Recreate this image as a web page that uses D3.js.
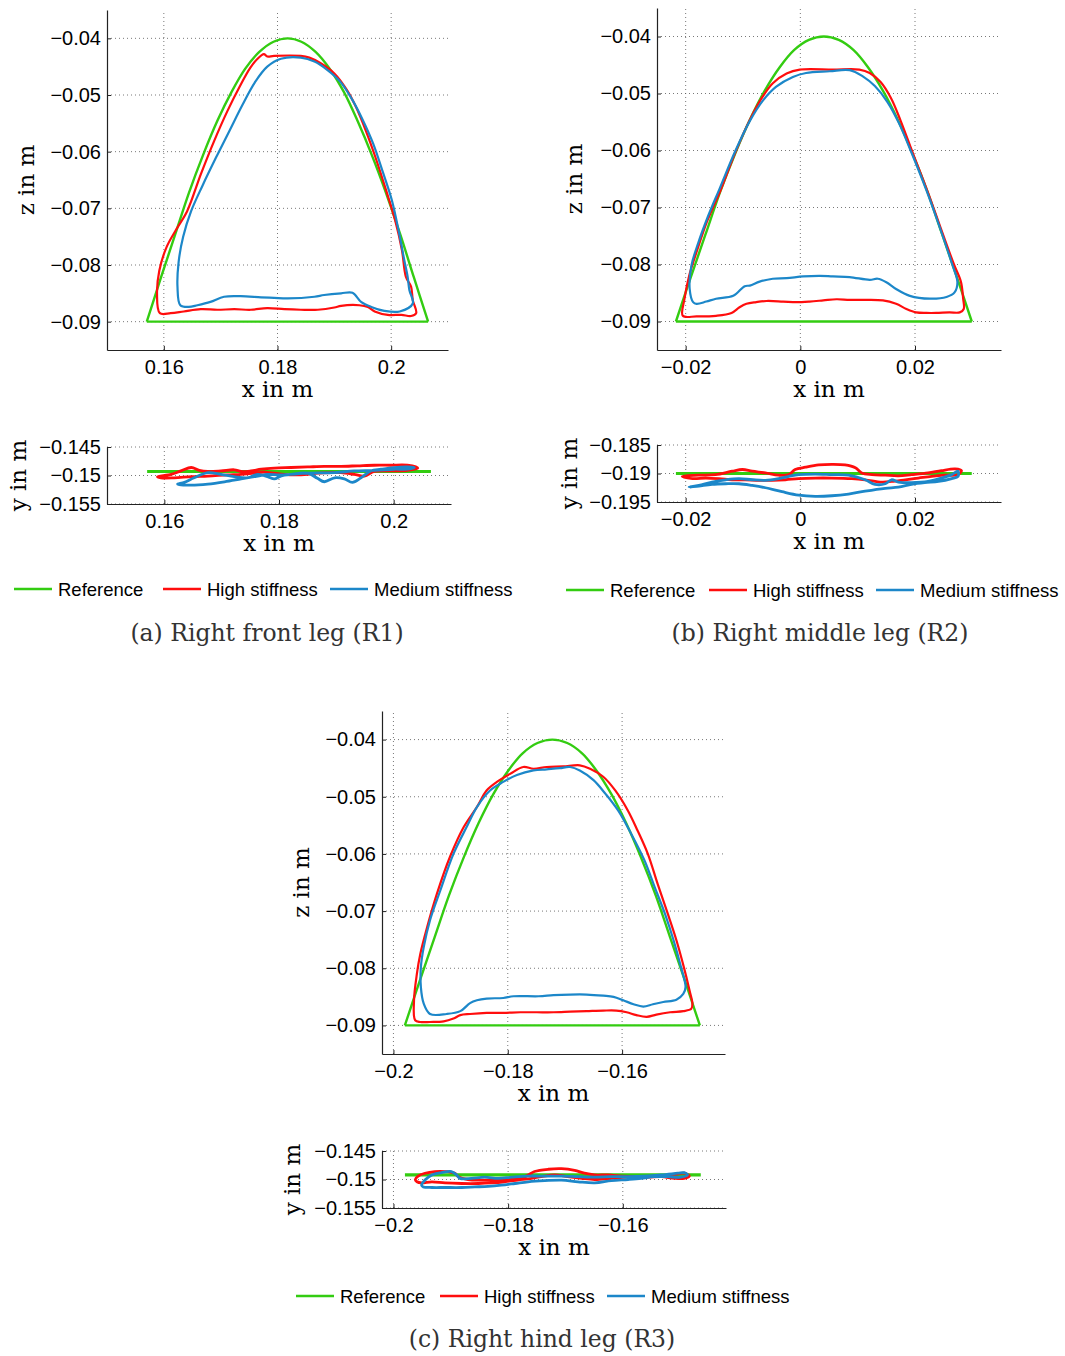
<!DOCTYPE html>
<html lang="en">
<head>
<meta charset="UTF-8">
<title>leg-trajectories</title>
<style>
  body { margin: 0; background: #fff; }
  svg { display: block; }
</style>
</head>
<body>
<div id="container"></div>
<script src="https://cdn.jsdelivr.net/npm/d3@7"></script>
<script>
// ---- data ---------------------------------------------------------------
var seriesNames = ["Reference", "High stiffness", "Medium stiffness"];

var zTicks = [-0.04, -0.05, -0.06, -0.07, -0.08, -0.09];
var xTicksA = [0.16, 0.18, 0.2];
var xTicksB = [-0.02, 0, 0.02];
var xTicksC = [-0.2, -0.18, -0.16];
var yTicksA = [-0.145, -0.15, -0.155];
var yTicksB = [-0.185, -0.19, -0.195];
var yTicksC = [-0.145, -0.15, -0.155];

// reference step (same height profile for every leg)
var refZ = [-0.09, -0.0822, -0.0746, -0.0673, -0.0606, -0.0546, -0.0495, -0.0454, -0.0424, -0.0406, -0.04,
            -0.0406, -0.0424, -0.0454, -0.0495, -0.0546, -0.0606, -0.0673, -0.0746, -0.0822, -0.09];
var refXa = [0.157, 0.1595, 0.162, 0.1644, 0.1669, 0.1694, 0.1719, 0.1743, 0.1768, 0.1793, 0.1818,
             0.1842, 0.1867, 0.1892, 0.1917, 0.1941, 0.1966, 0.1991, 0.2016, 0.204, 0.2065];
var refXb = [-0.0217, -0.0191, -0.0165, -0.014, -0.0114, -0.0088, -0.0062, -0.0036, -0.0011, 0.0015, 0.0041,
             0.0067, 0.0093, 0.0118, 0.0144, 0.017, 0.0196, 0.0222, 0.0247, 0.0273, 0.0299];
var refXc = [-0.198, -0.1954, -0.1928, -0.1903, -0.1877, -0.1851, -0.1825, -0.1799, -0.1774, -0.1748, -0.1722,
             -0.1696, -0.167, -0.1645, -0.1619, -0.1593, -0.1567, -0.1541, -0.1516, -0.149, -0.1464];
var refSideA = [[0.157, -0.1493], [0.2065, -0.1493]];
var refSideB = [[-0.0217, -0.19], [0.0299, -0.19]];
var refSideC = [[-0.198, -0.1492], [-0.1464, -0.1492]];

// R1 (x, z)
var highA = [[0.1593,-0.0885],[0.1588,-0.085],[0.1592,-0.081],[0.1605,-0.0768],[0.1622,-0.0737],[0.1641,-0.0705],
  [0.1665,-0.064],[0.1689,-0.058],[0.1712,-0.0528],[0.1734,-0.0484],[0.1752,-0.0452],[0.1764,-0.0437],
  [0.1776,-0.0428],[0.1782,-0.0432],
  [0.1794,-0.0431],[0.1841,-0.0431],[0.1856,-0.0434],[0.1876,-0.0444],[0.19,-0.0462],[0.1922,-0.0491],
  [0.1938,-0.0521],[0.1955,-0.0562],[0.1972,-0.0609],[0.1991,-0.0668],[0.2007,-0.0721],[0.2019,-0.0774],
  [0.2026,-0.0821],[0.2035,-0.0838],[0.2038,-0.0862],[0.2044,-0.0885],[0.2035,-0.089],[0.2018,-0.0888],
  [0.1994,-0.0888],[0.1971,-0.0882],[0.1959,-0.0874],[0.1944,-0.0871],[0.1912,-0.0872],[0.19,-0.0875],
  [0.1871,-0.0879],[0.1841,-0.0879],[0.1812,-0.0878],[0.1782,-0.0876],[0.1753,-0.0879],[0.1724,-0.0878],
  [0.1694,-0.0879],[0.1665,-0.0878],[0.1635,-0.0882],[0.1612,-0.0885]];
var medA = [[0.1629,-0.0871],[0.1624,-0.0838],[0.1626,-0.0795],[0.1634,-0.075],[0.1648,-0.0705],[0.1668,-0.066],
  [0.1692,-0.061],[0.1716,-0.0562],[0.1738,-0.0518],[0.176,-0.0478],[0.1782,-0.045],[0.1806,-0.0436],
  [0.1841,-0.0434],[0.1865,-0.0441],[0.1888,-0.0456],[0.191,-0.0476],[0.1932,-0.0509],[0.195,-0.0544],
  [0.1968,-0.0585],[0.1986,-0.0638],[0.2001,-0.0685],[0.2014,-0.0744],[0.2023,-0.0791],[0.2029,-0.0821],
  [0.2032,-0.0844],[0.2038,-0.0868],[0.2015,-0.0882],[0.1988,-0.0881],[0.1965,-0.0874],[0.1947,-0.0865],
  [0.1932,-0.0849],[0.1912,-0.085],[0.1882,-0.0853],[0.1865,-0.0856],[0.1818,-0.0859],[0.1794,-0.0858],
  [0.1771,-0.0857],[0.1735,-0.0855],[0.1706,-0.0856],[0.1682,-0.0865],[0.1659,-0.0871],[0.1644,-0.0874]];
// R1 (x, y)
var highSideA = [[0.1588,-0.1502],[0.1612,-0.1498],[0.1629,-0.1492],[0.1647,-0.1486],[0.1661,-0.1491],[0.1676,-0.1493],
  [0.1699,-0.1492],[0.1722,-0.149],[0.1734,-0.1493],[0.1751,-0.1492],[0.1769,-0.1489],[0.1792,-0.1487],
  [0.1821,-0.1486],[0.185,-0.1485],[0.1879,-0.1484],[0.1908,-0.1484],[0.1937,-0.1483],[0.1966,-0.1482],
  [0.1995,-0.1482],[0.2024,-0.1482],[0.2042,-0.1487],[0.2024,-0.1491],[0.1995,-0.1492],[0.1966,-0.1493],
  [0.1949,-0.1501],[0.1931,-0.1498],[0.1908,-0.1495],[0.1891,-0.1495],[0.1867,-0.1496],[0.185,-0.1498],
  [0.1827,-0.1499],[0.1809,-0.1498],[0.1792,-0.1496],[0.1774,-0.1494],[0.1757,-0.1496],[0.1734,-0.1498],
  [0.171,-0.1499],[0.1676,-0.1501],[0.1647,-0.1502],[0.1617,-0.1504],[0.1594,-0.1504]];
var medSideA = [[0.1623,-0.1515],[0.1635,-0.1512],[0.1652,-0.1504],[0.1676,-0.1495],[0.1699,-0.1498],[0.1722,-0.1502],
  [0.1745,-0.1504],[0.1763,-0.1498],[0.178,-0.1502],[0.1792,-0.1506],[0.1803,-0.1501],[0.1821,-0.1498],
  [0.185,-0.1496],[0.1867,-0.1505],[0.1879,-0.1511],[0.1897,-0.1504],[0.1914,-0.1506],[0.1928,-0.1512],
  [0.1943,-0.1504],[0.196,-0.1492],[0.1978,-0.1489],[0.2001,-0.1486],[0.2024,-0.1485],[0.2036,-0.1486],
  [0.2024,-0.1489],[0.2001,-0.1489],[0.1966,-0.1491],[0.1931,-0.1492],[0.1897,-0.1495],[0.185,-0.1496],
  [0.1803,-0.1499],[0.178,-0.1498],[0.1763,-0.1501],[0.1734,-0.1506],[0.1705,-0.1511],[0.1676,-0.1515],
  [0.1647,-0.1517],[0.1626,-0.1516]];

// R2 (x, z)
var highB = [[-0.0205,-0.089],[-0.0202,-0.086],[-0.0194,-0.082],[-0.018,-0.0775],[-0.0163,-0.0725],[-0.014,-0.0672],
  [-0.0114,-0.0605],[-0.0088,-0.0546],[-0.0066,-0.0506],[-0.0048,-0.0482],[-0.0024,-0.0465],[-0.0001,-0.0458],
  [0.0057,-0.0458],[0.0103,-0.0458],[0.0121,-0.0464],[0.014,-0.048],[0.0158,-0.0508],[0.0175,-0.0548],
  [0.0196,-0.0604],[0.0222,-0.0672],[0.0248,-0.0745],[0.0268,-0.08],[0.028,-0.083],[0.0284,-0.086],
  [0.0285,-0.0878],[0.0278,-0.0884],[0.026,-0.0884],[0.0237,-0.0885],
  [0.022,-0.0885],[0.0202,-0.0884],[0.0185,-0.0878],[0.0167,-0.0869],[0.0144,-0.0863],[0.0115,-0.0862],
  [0.0086,-0.0862],[0.0063,-0.0861],[0.004,-0.0863],[0.0016,-0.0865],[-0.0007,-0.0866],[-0.003,-0.0865],
  [-0.0059,-0.0864],[-0.0077,-0.0866],[-0.0094,-0.0869],[-0.0106,-0.0875],[-0.012,-0.0885],[-0.0147,-0.089],
  [-0.0181,-0.0891]];
var medB = [[-0.0187,-0.0866],[-0.0193,-0.0843],[-0.019,-0.0802],[-0.0178,-0.0762],[-0.0162,-0.0718],[-0.014,-0.0665],
  [-0.0113,-0.06],[-0.0088,-0.0548],[-0.0065,-0.0512],[-0.0042,-0.0488],[-0.0013,-0.0471],[0.001,-0.0464],
  [0.0051,-0.0461],[0.0086,-0.0459],[0.0109,-0.047],[0.013,-0.0487],[0.0152,-0.0515],[0.0172,-0.0552],
  [0.0194,-0.0604],[0.022,-0.067],[0.0246,-0.0743],[0.0265,-0.08],
  [0.0274,-0.0831],[0.0269,-0.0849],[0.0255,-0.0857],[0.0226,-0.086],[0.0191,-0.0855],[0.0167,-0.0843],
  [0.015,-0.0831],[0.0135,-0.0825],[0.0121,-0.0827],[0.0086,-0.0822],[0.0057,-0.0821],[0.0034,-0.082],
  [0.0005,-0.0821],[-0.0024,-0.0824],[-0.0048,-0.0825],[-0.0071,-0.083],[-0.0088,-0.0837],[-0.0097,-0.0838],
  [-0.0117,-0.0855],[-0.0147,-0.086],[-0.0164,-0.0865],[-0.0181,-0.0869]];
// R2 (x, y)
var highSideB = [[-0.0206,-0.1905],[-0.0177,-0.1903],[-0.0148,-0.1902],[-0.0119,-0.1896],[-0.0101,-0.1893],[-0.0084,-0.1896],
  [-0.0061,-0.1899],[-0.0038,-0.1903],[-0.002,-0.1902],[-0.0009,-0.1893],[0.0009,-0.1889],[0.0032,-0.1885],
  [0.0055,-0.1884],[0.0078,-0.1885],[0.0096,-0.189],[0.0107,-0.1899],[0.0125,-0.1902],[0.0148,-0.1903],
  [0.0171,-0.1904],[0.0194,-0.1902],[0.0223,-0.1899],[0.0246,-0.1895],[0.027,-0.1892],[0.0281,-0.1895],
  [0.0275,-0.1902],[0.0252,-0.1903],[0.0229,-0.1905],[0.0206,-0.1908],[0.0183,-0.1911],[0.0159,-0.1914],
  [0.0142,-0.1915],[0.0113,-0.1911],[0.009,-0.1909],[0.0055,-0.1908],[0.0026,-0.1908],[-0.0003,-0.1909],
  [-0.0026,-0.1911],[-0.0049,-0.1912],[-0.0072,-0.1912],[-0.0096,-0.1911],[-0.0119,-0.1911],[-0.0142,-0.1909],
  [-0.0165,-0.1908],[-0.0188,-0.1909]];
var medSideB = [[-0.0194,-0.1924],[-0.0177,-0.1921],[-0.0154,-0.1915],[-0.013,-0.1911],[-0.0107,-0.1909],[-0.0084,-0.1911],
  [-0.0061,-0.1912],[-0.0038,-0.1909],[-0.002,-0.1905],[-0.0003,-0.1902],[0.0026,-0.1901],[0.0055,-0.1902],
  [0.0084,-0.1903],[0.0113,-0.1911],[0.013,-0.1919],[0.0148,-0.1918],[0.0159,-0.1911],[0.0171,-0.1915],
  [0.0194,-0.1916],[0.0223,-0.1914],[0.0246,-0.1908],[0.0264,-0.1902],[0.0275,-0.1896],[0.0275,-0.1905],
  [0.0264,-0.1909],[0.0241,-0.1914],[0.0217,-0.1916],[0.0194,-0.1919],[0.0171,-0.1924],[0.0148,-0.1926],
  [0.0113,-0.1931],[0.0084,-0.1936],[0.0055,-0.1939],[0.0026,-0.194],[-0.0003,-0.1938],[-0.0032,-0.1932],
  [-0.0061,-0.1925],[-0.0084,-0.1921],[-0.0107,-0.1918],[-0.013,-0.1918],[-0.0154,-0.1919],[-0.0177,-0.1922]];

// R3 (x, z)
var highC = [[-0.1962,-0.0891],[-0.1964,-0.0856],[-0.1959,-0.081],[-0.1953,-0.0775],[-0.1941,-0.0728],[-0.1924,-0.067],
  [-0.1901,-0.0605],[-0.1877,-0.0553],[-0.1854,-0.0518],[-0.1837,-0.0489],[-0.1819,-0.0474],[-0.1796,-0.046],
  [-0.1773,-0.0448],[-0.1755,-0.0451],[-0.1732,-0.0448],[-0.1703,-0.0447],[-0.1674,-0.0445],[-0.1656,-0.0451],
  [-0.1633,-0.0465],[-0.1612,-0.0489],[-0.159,-0.0524],[-0.1573,-0.0559],[-0.1555,-0.06],[-0.1538,-0.0652],
  [-0.152,-0.0705],[-0.1505,-0.0751],[-0.1492,-0.0798],[-0.1482,-0.0839],[-0.1477,-0.0862],[-0.1479,-0.0871],
  [-0.1493,-0.0875],[-0.1516,-0.0877],[-0.154,-0.0881],[-0.1557,-0.0885],[-0.1575,-0.0882],[-0.1592,-0.0877],
  [-0.161,-0.0874],[-0.1633,-0.0874],[-0.1662,-0.0875],[-0.1691,-0.0876],[-0.172,-0.0877],[-0.1749,-0.0877],
  [-0.1778,-0.0877],[-0.1808,-0.0878],[-0.1837,-0.0878],[-0.1866,-0.088],[-0.1883,-0.0882],[-0.1895,-0.0888],
  [-0.1912,-0.0893],[-0.1936,-0.0894],[-0.1953,-0.0894]];
var medC = [[-0.1936,-0.088],[-0.1947,-0.0862],[-0.1952,-0.0833],[-0.1952,-0.0798],[-0.1947,-0.0763],[-0.1936,-0.0716],
  [-0.1918,-0.0664],[-0.1895,-0.06],[-0.1872,-0.0553],[-0.1854,-0.0518],[-0.1831,-0.0489],[-0.1808,-0.0474],
  [-0.1784,-0.0462],[-0.1755,-0.0454],[-0.1732,-0.0452],[-0.1709,-0.045],[-0.1691,-0.0448],[-0.1674,-0.0454],
  [-0.165,-0.0471],[-0.1629,-0.0495],[-0.1607,-0.0524],[-0.1584,-0.0565],[-0.1561,-0.0611],[-0.1543,-0.0658],
  [-0.1525,-0.0705],[-0.151,-0.0751],[-0.1497,-0.0798],[-0.1489,-0.0833],[-0.1493,-0.0845],[-0.1505,-0.0855],
  [-0.1528,-0.0859],[-0.1546,-0.0863],[-0.1563,-0.0867],[-0.158,-0.0863],[-0.1598,-0.0856],[-0.1615,-0.085],
  [-0.1633,-0.0848],[-0.1662,-0.0846],[-0.1691,-0.0846],[-0.172,-0.0847],[-0.1746,-0.0849],[-0.179,-0.0849],
  [-0.1808,-0.0852],[-0.1837,-0.0853],[-0.1854,-0.0856],[-0.1866,-0.0861],[-0.1883,-0.0875],[-0.1907,-0.088]];
// R3 (x, y)
var highSideC = [[-0.1962,-0.15],[-0.1957,-0.1494],[-0.1945,-0.1489],[-0.1928,-0.1486],[-0.191,-0.1486],[-0.1893,-0.1489],
  [-0.1887,-0.1495],[-0.187,-0.15],[-0.1846,-0.1501],[-0.1823,-0.1501],[-0.18,-0.15],[-0.1777,-0.1498],
  [-0.1765,-0.1492],[-0.1754,-0.1486],[-0.173,-0.1482],[-0.1707,-0.1481],[-0.1684,-0.1484],[-0.1667,-0.1489],
  [-0.1649,-0.1492],[-0.1626,-0.1492],[-0.1603,-0.1494],[-0.158,-0.1495],[-0.1557,-0.1495],[-0.1533,-0.1494],
  [-0.151,-0.1491],[-0.1493,-0.1489],[-0.1484,-0.1494],[-0.1493,-0.1498],[-0.151,-0.1498],[-0.1533,-0.1495],
  [-0.1557,-0.1496],[-0.1591,-0.1496],[-0.162,-0.1498],[-0.1649,-0.15],[-0.1672,-0.1498],[-0.1696,-0.1495],
  [-0.1719,-0.1492],[-0.1742,-0.1495],[-0.1759,-0.1498],[-0.1783,-0.1501],[-0.1806,-0.1504],[-0.1829,-0.1506],
  [-0.1852,-0.1507],[-0.1881,-0.1507],[-0.191,-0.1506],[-0.1933,-0.1504],[-0.1951,-0.1506],[-0.1959,-0.1504]];
var medSideC = [[-0.1951,-0.151],[-0.1945,-0.1501],[-0.1933,-0.1492],[-0.1916,-0.1488],[-0.1899,-0.1486],[-0.189,-0.1492],
  [-0.1884,-0.1498],[-0.1864,-0.1498],[-0.1841,-0.1496],[-0.1817,-0.1498],[-0.1794,-0.1496],[-0.1765,-0.1494],
  [-0.1736,-0.1494],[-0.1707,-0.1494],[-0.1678,-0.1495],[-0.1649,-0.1496],[-0.162,-0.1495],[-0.1591,-0.1495],
  [-0.1562,-0.1494],[-0.1533,-0.1492],[-0.1504,-0.1489],[-0.1493,-0.1488],[-0.1487,-0.1492],[-0.1499,-0.1496],
  [-0.1522,-0.1495],[-0.1545,-0.1495],[-0.1568,-0.1498],[-0.1591,-0.15],[-0.162,-0.1502],[-0.1649,-0.1506],
  [-0.1678,-0.1504],[-0.1707,-0.1501],[-0.1736,-0.1502],[-0.1765,-0.1504],[-0.1788,-0.1507],[-0.1812,-0.151],
  [-0.1835,-0.1512],[-0.1858,-0.1513],[-0.1881,-0.1514],[-0.191,-0.1514],[-0.1933,-0.1514],[-0.1948,-0.1513]];

var captions = ["(a) Right front leg (R1)", "(b) Right middle leg (R2)", "(c) Right hind leg (R3)"];

// ---- drawing ------------------------------------------------------------
var colors = ["#33cc11", "#ff0d0d", "#1c87c9"];
var sansFont = "'Liberation Sans', Arial, sans-serif";
var serifFont = "'DejaVu Serif', serif";

var svg = d3.select("#container").append("svg")
    .attr("width", 1065)
    .attr("height", 1356)
    .style("background", "#fff");

function fmt(d) {
  return (d < 0 ? "\u2212" : "") + Math.abs(d);
}

function drawPanel(p) {
  var x = d3.scaleLinear().domain(p.xd).range(p.xr);
  var y = d3.scaleLinear().domain(p.yd).range(p.yr);
  var g = svg.append("g");
  var lw = p.refX ? 2.2 : 2.8;

  // dotted grid
  g.append("g").selectAll("line.gx").data(p.xt).enter().append("line")
      .attr("x1", function(d) { return x(d); }).attr("x2", function(d) { return x(d); })
      .attr("y1", p.yr[0]).attr("y2", p.yr[1]);
  g.append("g").selectAll("line.gy").data(p.yt).enter().append("line")
      .attr("y1", function(d) { return y(d); }).attr("y2", function(d) { return y(d); })
      .attr("x1", p.xr[0]).attr("x2", p.xr[1]);
  g.selectAll("line")
      .attr("stroke", "#555")
      .attr("stroke-width", 0.8)
      .attr("stroke-dasharray", "1,3");

  var line = d3.line().x(function(d) { return x(d[0]); }).y(function(d) { return y(d[1]); });

  // reference
  if (p.refX) {
    var arch = p.refX.map(function(v, i) { return [v, refZ[i]]; });
    g.append("path").attr("d", line.curve(d3.curveCatmullRom)(arch))
        .attr("fill", "none").attr("stroke", colors[0]).attr("stroke-width", 2.4);
    g.append("path").attr("d", line.curve(d3.curveLinear)([arch[0], arch[arch.length - 1]]))
        .attr("fill", "none").attr("stroke", colors[0]).attr("stroke-width", 2.4);
  } else {
    g.append("path").attr("d", line.curve(d3.curveLinear)(p.ref))
        .attr("fill", "none").attr("stroke", colors[0]).attr("stroke-width", 3.2);
  }
  [p.high, p.med].forEach(function(s, i) {
    g.append("path").attr("d", line.curve(d3.curveCatmullRomClosed)(s))
        .attr("fill", "none").attr("stroke", colors[i + 1])
        .attr("stroke-width", lw).attr("stroke-linejoin", "round");
  });

  // axes
  var ax = g.append("g")
      .attr("transform", "translate(0," + p.yr[0] + ")")
      .call(d3.axisBottom(x).tickValues(p.xt).tickFormat(fmt).tickSize(-4).tickSizeOuter(0).tickPadding(10));
  var ay = g.append("g")
      .attr("transform", "translate(" + p.xr[0] + ",0)")
      .call(d3.axisLeft(y).tickValues(p.yt).tickFormat(fmt).tickSize(-4).tickSizeOuter(0).tickPadding(6));
  [ax, ay].forEach(function(a) {
    a.select(".domain").attr("stroke", "#222").attr("stroke-width", 1.2);
    a.selectAll(".tick line").attr("stroke", "#222");
    a.selectAll("text").attr("font-family", sansFont).attr("font-size", 20).attr("fill", "#000");
  });

  g.append("text")
      .attr("x", (p.xr[0] + p.xr[1]) / 2)
      .attr("y", p.yr[0] + 47)
      .attr("text-anchor", "middle")
      .attr("font-family", serifFont).attr("font-size", 23)
      .text("x in m");
  g.append("text")
      .attr("transform", "translate(" + (p.xr[0] - p.ylabOff) + "," + ((p.yr[0] + p.yr[1]) / 2) + ") rotate(-90)")
      .attr("text-anchor", "middle")
      .attr("font-family", serifFont).attr("font-size", 23)
      .text(p.ylab);
}

function drawLegend(yy, xs) {
  var lg = svg.append("g").attr("transform", "translate(0," + yy + ")");
  seriesNames.forEach(function(name, i) {
    lg.append("line").attr("x1", xs[i]).attr("x2", xs[i] + 38).attr("y1", 0).attr("y2", 0)
        .attr("stroke", colors[i]).attr("stroke-width", 2.5);
    lg.append("text").attr("x", xs[i] + 44).attr("y", 6.5)
        .attr("font-family", sansFont).attr("font-size", 18.5)
        .text(name);
  });
}

function drawCaption(cx, yy, txt) {
  svg.append("text").attr("x", cx).attr("y", yy)
      .attr("text-anchor", "middle")
      .attr("font-family", serifFont).attr("font-size", 23.5)
      .attr("fill", "#333")
      .text(txt);
}

// R1
drawPanel({xr: [107, 448], yr: [350, 10], xd: [0.15, 0.21], yd: [-0.095, -0.035], xt: xTicksA, yt: zTicks,
           refX: refXa, high: highA, med: medA, ylab: "z in m", ylabOff: 73});
drawPanel({xr: [107, 451], yr: [504, 447], xd: [0.15, 0.21], yd: [-0.155, -0.145], xt: xTicksA, yt: yTicksA,
           ref: refSideA, high: highSideA, med: medSideA, ylab: "y in m", ylabOff: 81});
// R2
drawPanel({xr: [657, 1001], yr: [350, 8], xd: [-0.025, 0.035], yd: [-0.095, -0.035], xt: xTicksB, yt: zTicks,
           refX: refXb, high: highB, med: medB, ylab: "z in m", ylabOff: 75});
drawPanel({xr: [657, 1001], yr: [502, 445], xd: [-0.025, 0.035], yd: [-0.195, -0.185], xt: xTicksB, yt: yTicksB,
           ref: refSideB, high: highSideB, med: medSideB, ylab: "y in m", ylabOff: 80});
// R3
drawPanel({xr: [382, 725], yr: [1054, 711], xd: [-0.202, -0.142], yd: [-0.095, -0.035], xt: xTicksC, yt: zTicks,
           refX: refXc, high: highC, med: medC, ylab: "z in m", ylabOff: 73});
drawPanel({xr: [382, 726], yr: [1208, 1151], xd: [-0.202, -0.142], yd: [-0.155, -0.145], xt: xTicksC, yt: yTicksC,
           ref: refSideC, high: highSideC, med: medSideC, ylab: "y in m", ylabOff: 82});

drawLegend(589, [14, 163, 330]);
drawLegend(590, [566, 709, 876]);
drawLegend(1296, [296, 440, 607]);

drawCaption(267, 641, captions[0]);
drawCaption(820, 641, captions[1]);
drawCaption(542, 1347, captions[2]);
</script>
</body>
</html>
